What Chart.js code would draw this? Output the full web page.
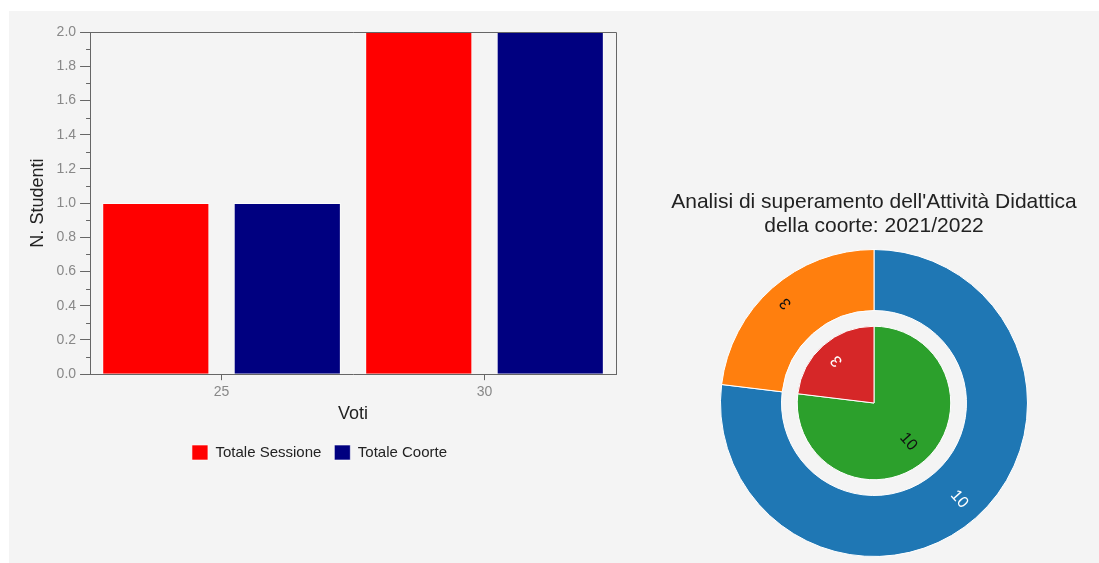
<!DOCTYPE html>
<html lang="it">
<head>
<meta charset="utf-8">
<title>Analisi voti</title>
<script src="https://cdn.jsdelivr.net/npm/chart.js@4.4.1/dist/chart.umd.min.js"></script>
<style>
  html, body { margin: 0; padding: 0; background: #ffffff; overflow: hidden; }
  body { width: 1099px; height: 563px; position: relative; }
  .pannello { position: absolute; left: 9px; top: 11px; right: 0; bottom: 0; background: #f4f4f4; }
  #graficoVoti { position: absolute; left: 9px; top: 11px; }
  #graficoCoorte { position: absolute; left: 649px; top: 180px; }
</style>
</head>
<body>
<div class="pannello"></div>
<canvas id="graficoVoti" width="623" height="463"></canvas>
<canvas id="graficoCoorte" width="450" height="383"></canvas>
<script>
// --- Dati istogramma voti ---
const voti = ['25', '30'];
const totaleSessione = [1, 2];
const totaleCoorte = [1, 2];

// --- Dati superamento (anello esterno / torta interna) ---
const valoriEsterno = [10, 3];
const coloriEsterno = ['#1f77b4', '#ff7f0e'];
const testoEsterno = ['#ffffff', '#111111'];
const valoriInterno = [10, 3];
const coloriInterno = ['#2ca02c', '#d62728'];
const testoInterno = ['#111111', '#ffffff'];
const titoloCoorte = ["Analisi di superamento dell'Attività Didattica", 'della coorte: 2021/2022'];

Chart.defaults.font.family = "'Liberation Sans', Arial, sans-serif";
Chart.defaults.animation = false;

const AXIS = '#666666';

// cornice sopra e a destra + tacche minori sull'asse y
const cornice = {
  id: 'cornice',
  afterDraw(chart) {
    const { ctx, chartArea: a } = chart;
    const y = chart.scales.y;
    ctx.save();
    ctx.strokeStyle = AXIS;
    ctx.lineWidth = 1;
    ctx.beginPath();
    ctx.moveTo(a.left, Math.round(a.top) + 0.5);
    ctx.lineTo(Math.round(a.right) + 0.5, Math.round(a.top) + 0.5);
    ctx.lineTo(Math.round(a.right) + 0.5, a.bottom);
    ctx.stroke();
    // tacche intermedie tra i tick principali
    ctx.beginPath();
    for (let i = 0; i < y.ticks.length - 1; i++) {
      const v = (y.ticks[i].value + y.ticks[i + 1].value) / 2;
      const py = Math.round(y.getPixelForValue(v)) + 0.5;
      ctx.moveTo(a.left - 4, py);
      ctx.lineTo(a.left, py);
    }
    ctx.stroke();
    ctx.restore();
  }
};

new Chart(document.getElementById('graficoVoti'), {
  type: 'bar',
  data: {
    labels: voti,
    datasets: [
      {
        label: 'Totale Sessione',
        data: totaleSessione,
        backgroundColor: '#ff0000',
        borderColor: 'rgba(255,255,255,0.6)',
        borderWidth: 1
      },
      {
        label: 'Totale Coorte',
        data: totaleCoorte,
        backgroundColor: '#000080',
        borderColor: 'rgba(255,255,255,0.6)',
        borderWidth: 1
      }
    ]
  },
  options: {
    responsive: false,
    categoryPercentage: 1.0,
    barPercentage: 0.815,
    layout: { padding: { top: 21, left: 14, right: 16, bottom: 4 } },
    scales: {
      x: {
        grid: { display: true, drawOnChartArea: false, offset: false, tickLength: 6, tickColor: AXIS },
        border: { display: true, color: AXIS, width: 1 },
        ticks: { color: '#888888', font: { size: 14 }, padding: 4 },
        title: { display: true, text: 'Voti', color: '#222222', font: { size: 18, lineHeight: 1.0 }, padding: { top: 0, bottom: 9 } }
      },
      y: {
        min: 0,
        max: 2,
        grid: { display: true, drawOnChartArea: false, tickLength: 10, tickColor: AXIS },
        border: { display: true, color: AXIS, width: 1 },
        ticks: { stepSize: 0.2, color: '#888888', font: { size: 14 }, padding: 4,
                 callback: v => v.toFixed(1) },
        title: { display: true, text: 'N. Studenti', color: '#222222', font: { size: 18 }, padding: { top: 4, bottom: 4 } }
      }
    },
    plugins: {
      legend: {
        position: 'bottom',
        labels: { boxWidth: 16, boxHeight: 15, padding: 13, color: '#222222', font: { size: 15 } }
      },
      tooltip: { enabled: false }
    }
  },
  plugins: [cornice]
});

// etichette radiali dentro gli spicchi
const etichetteRadiali = {
  id: 'etichetteRadiali',
  afterDatasetsDraw(chart) {
    const ctx = chart.ctx;
    chart.data.datasets.forEach((ds, di) => {
      chart.getDatasetMeta(di).data.forEach((arc, i) => {
        const p = arc.getProps(['x', 'y', 'startAngle', 'endAngle', 'outerRadius'], true);
        const mid = (p.startAngle + p.endAngle) / 2;
        const r = p.outerRadius - 16;
        ctx.save();
        ctx.translate(p.x + Math.cos(mid) * r, p.y + Math.sin(mid) * r);
        ctx.rotate(mid);
        ctx.textAlign = 'right';
        ctx.textBaseline = 'middle';
        ctx.fillStyle = ds.coloriTesto[i];
        ctx.font = "16px 'Liberation Sans', Arial, sans-serif";
        ctx.fillText(String(ds.data[i]), 0, 0);
        ctx.restore();
      });
    });
  }
};

new Chart(document.getElementById('graficoCoorte'), {
  type: 'doughnut',
  data: {
    labels: ['A', 'B'],
    datasets: [
      {
        data: valoriEsterno,
        backgroundColor: coloriEsterno,
        coloriTesto: testoEsterno,
        borderColor: '#ffffff',
        borderWidth: 1,
        cutout: '20.5%'
      },
      {
        data: valoriInterno,
        backgroundColor: coloriInterno,
        coloriTesto: testoInterno,
        borderColor: '#ffffff',
        borderWidth: 1,
        cutout: 0
      }
    ]
  },
  options: {
    responsive: false,
    layout: { padding: { bottom: 6 } },
    plugins: {
      legend: { display: false },
      tooltip: { enabled: false },
      title: {
        display: true,
        text: titoloCoorte,
        color: '#222222',
        font: { size: 21, weight: 'normal', lineHeight: 1.143 },
        padding: { top: 10, bottom: 11 }
      }
    }
  },
  plugins: [etichetteRadiali]
});
</script>
</body>
</html>
